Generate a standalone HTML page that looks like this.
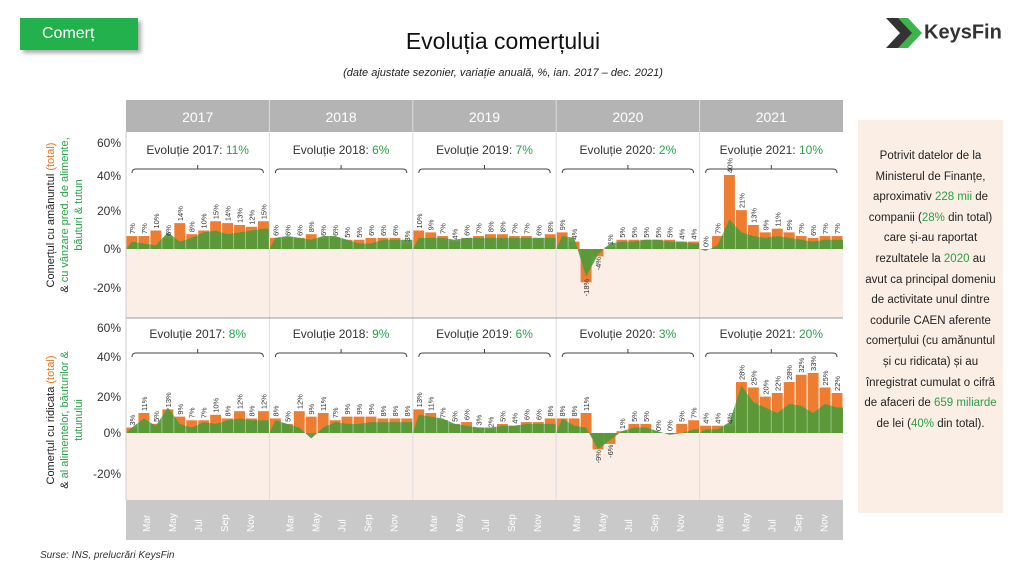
<!DOCTYPE html>
<html><head><meta charset="utf-8"><style>
body{margin:0;width:1024px;height:573px;background:#fff;font-family:"Liberation Sans",sans-serif;overflow:hidden;position:relative}
.btn{position:absolute;left:20px;top:18px;width:118px;height:32px;background:#22b14c;color:#fff;font-size:16px;line-height:32px;padding-left:22px;box-sizing:border-box;box-shadow:3px 3px 4px #aaa}
.title{position:absolute;left:0;width:1006px;top:28px;text-align:center;font-size:23px;color:#111}
.sub{position:absolute;left:0;width:1006px;top:67px;text-align:center;font-size:11px;font-style:italic;color:#222}
.src{position:absolute;left:40px;top:550px;font-size:10px;font-style:italic;color:#333}
.box{position:absolute;left:858px;top:120px;width:145px;height:393px;background:#fbeee4;font-size:11.5px;line-height:20.6px;text-align:center;color:#222;padding:26px 6px 0 6px;box-sizing:border-box}
.g{color:#2aa048}
.logo{position:absolute;left:884px;top:16px;font-size:20px;color:#333;font-weight:bold}
</style></head><body>
<div class="btn">Comerț</div>
<div class="title">Evoluția comerțului</div>
<div class="sub">(date ajustate sezonier, variație anuală, %, ian. 2017 – dec. 2021)</div>
<div class="logo"><svg width="40" height="34" style="vertical-align:middle" viewBox="0 0 40 34"><polygon points="2,2 16,2 30,17 16,32 2,32 16,17" fill="#333"/><polygon points="14,2 24,2 38,17 24,32 14,32 28,17" fill="#3cb44b"/></svg><span style="vertical-align:middle">KeysFin</span></div>
<div class="box">Potrivit datelor de la Ministerul de Finanțe, aproximativ <span class="g">228 mii</span> de companii (<span class="g">28%</span> din total) care și-au raportat rezultatele la <span class="g">2020</span> au avut ca principal domeniu de activitate unul dintre codurile CAEN aferente comerțului (cu amănuntul și cu ridicata) și au înregistrat cumulat o cifră de afaceri de <span class="g">659 miliarde</span> de lei (<span class="g">40%</span> din total).</div>
<div class="src">Surse: INS, prelucrări KeysFin</div>
<svg id="c" width="1024" height="573" style="position:absolute;left:0;top:0" font-family="Liberation Sans, sans-serif"></svg>
<script>
(function(){
const S=document.getElementById('c');let h='';
const X0=126,W=143.4,yrs=['2017','2018','2019','2020','2021'];
h+=`<rect x="${X0}" y="100" width="${W*5}" height="32" fill="#b4b4b4"/>`;
h+=`<rect x="${X0}" y="500" width="${W*5}" height="40" fill="#c9c9c9"/>`;
h+=`<rect x="${X0}" y="249" width="${W*5}" height="69" fill="#fbeee6"/>`;
h+=`<rect x="${X0}" y="433" width="${W*5}" height="67" fill="#fbeee6"/>`;
const PT={z:249,s:1.85,o:[[7,7,10,6,14,8,10,15,14,13,12,15],[6,6,6,8,6,6,5,5,6,6,6,3],[10,9,7,4,6,7,8,8,7,7,6,8],[9,4,-18,-4,1,5,5,5,5,5,4,4],[0,7,40,21,13,9,11,9,7,6,7,7]],
g:[[4,3,2,9,4,6,9,10,8,9,10,11],[6,7,6,5,7,7,5,3,3,5,5,5],[6,6,6,5,6,6,6,6,6,6,6,6],[7,6,-15,-3,3,4,4,5,5,4,4,3],[-1,2,16,9,7,6,7,6,5,4,5,5]],ev:['11%','6%','7%','2%','10%']};
const PB={z:433,s:1.82,o:[[3,11,5,13,9,7,7,10,8,12,8,12],[8,5,12,9,11,7,9,9,9,8,8,8],[13,11,7,5,6,3,2,5,4,6,6,8],[8,8,11,-9,-6,1,5,5,0,0,5,7],[4,4,4,28,25,20,22,28,32,33,25,22]],
g:[[3,8,4,14,5,3,6,5,7,8,7,7],[7,5,3,-3,3,6,5,5,6,6,6,6],[10,9,8,5,4,3,3,4,4,5,5,5],[8,4,3,-9,-4,1,3,3,1,-1,0,2],[2,2,6,26,17,14,11,16,15,11,16,14]],ev:['8%','9%','6%','3%','20%']};
function panel(P,yt){
 for(let p=0;p<5;p++){const px=X0+p*W,bw=W/12;
  for(let i=0;i<12;i++){const v=P.o[p][i],x=px+i*bw,y=v>=0?P.z-v*P.s:P.z;
   h+=`<rect x="${x+0.5}" y="${y}" width="${bw-1}" height="${Math.abs(v)*P.s}" fill="#ee7d31"/>`;}
  let pts=`${px},${P.z} `;for(let i=0;i<12;i++)pts+=`${px+i*bw+bw/2},${P.z-P.g[p][i]*P.s} `;pts+=`${px+W},${P.z-P.g[p][11]*P.s} ${px+W},${P.z}`;
  h+=`<polygon points="${pts}" fill="#4f9a38" opacity="0.92"/>`;
  for(let i=1;i<12;i++)h+=`<line x1="${px+i*bw}" x2="${px+i*bw}" y1="${P.z-45*P.s}" y2="${P.z}" stroke="#fff" stroke-opacity="0.35"/>`;
  for(let i=0;i<12;i++){const v=P.o[p][i],x=px+i*bw+bw/2+3,y=(v>=0?P.z-v*P.s:P.z-v*P.s+16)-2;
   h+=`<text x="${x}" y="${y}" font-size="7.5" fill="#333" transform="rotate(-90 ${x} ${y})">${v}%</text>`;}
  h+=`<text x="${px+W/2}" y="${yt}" font-size="12" fill="#333" text-anchor="middle">Evoluție ${yrs[p]}: <tspan fill="#2aa048">${P.ev[p]}</tspan></text>`;
  const by=yt+15;h+=`<path d="M${px+6},${by+4} q0,-4 4,-4 H${px+W-10} q4,0 4,4 M${px+W/2},${by} v-4" stroke="#444" fill="none"/>`;
 }}
panel(PT,154);panel(PB,338);
for(let p=0;p<5;p++){const px=X0+p*W;
 h+=`<text x="${px+W/2}" y="122" font-size="14" fill="#fff" text-anchor="middle">${yrs[p]}</text>`;
 if(p>0)h+=`<line x1="${px}" x2="${px}" y1="100" y2="500" stroke="#ddd"/>`;
 ['Mar','May','Jul','Sep','Nov'].forEach((m,k)=>{const x=px+24+26*k,y=532;h+=`<text x="${x}" y="${y}" font-size="10" fill="#fff" transform="rotate(-90 ${x} ${y})">${m}</text>`;});}
h+=`<line x1="${X0}" x2="${X0+W*5}" y1="318" y2="318" stroke="#999"/>`;
h+=`<line x1="${X0}" x2="${X0}" y1="132" y2="500" stroke="#ccc"/>`;
[[60,143],[40,176],[20,211],[0,249],[-20,288]].forEach(a=>h+=`<text x="121" y="${a[1]+4}" font-size="12" fill="#333" text-anchor="end">${a[0]}%</text>`);
[[60,328],[40,357],[20,397],[0,433],[-20,474]].forEach(a=>h+=`<text x="121" y="${a[1]+4}" font-size="12" fill="#333" text-anchor="end">${a[0]}%</text>`);
h+=`<text transform="translate(54,215) rotate(-90)" font-size="11" text-anchor="middle" fill="#222">Comerțul cu amănuntul <tspan fill="#e87722">(total)</tspan></text>`;
h+=`<text transform="translate(68,215) rotate(-90)" font-size="11" text-anchor="middle" fill="#2aa048"><tspan fill="#222">&amp; </tspan>cu vânzare pred. de alimente,</text>`;
h+=`<text transform="translate(82,215) rotate(-90)" font-size="11" text-anchor="middle" fill="#2aa048">băuturi &amp; tutun</text>`;
h+=`<text transform="translate(54,420) rotate(-90)" font-size="11" text-anchor="middle" fill="#222">Comerțul cu ridicata <tspan fill="#e87722">(total)</tspan></text>`;
h+=`<text transform="translate(68,420) rotate(-90)" font-size="11" text-anchor="middle" fill="#2aa048"><tspan fill="#222">&amp; </tspan>al alimentelor, băuturilor &amp;</text>`;
h+=`<text transform="translate(82,420) rotate(-90)" font-size="11" text-anchor="middle" fill="#2aa048">tutunului</text>`;
S.innerHTML=h;
})();
</script>
</body></html>
